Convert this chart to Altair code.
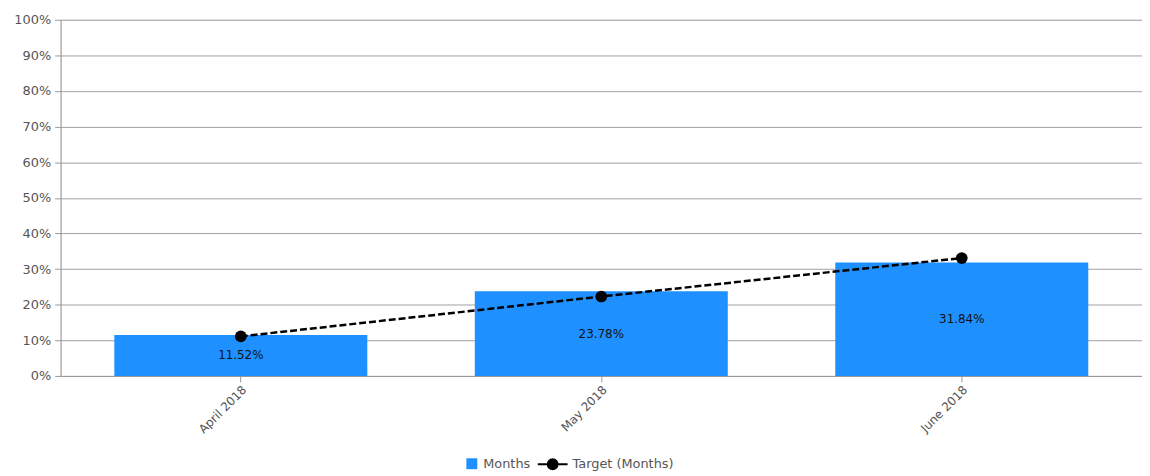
import altair as alt
import pandas as pd

months = ["April 2018", "May 2018", "June 2018"]
actual = [0.1152, 0.2378, 0.3184]
target = [0.111, 0.223, 0.331]

df = pd.DataFrame({"month": months, "actual": actual, "target": target,
                   "series": ["Months"] * 3, "tseries": ["Target (Months)"] * 3})

FONT = "DejaVu Sans"
GREY = "#555555"

x_axis = alt.Axis(labelAngle=-45, labelColor=GREY, labelFont=FONT, labelFontSize=12,
                  domainColor="#999999", tickColor="#999999", tickSize=6,
                  labelPadding=2, grid=False)
y_axis = alt.Axis(format=".0%", values=[i / 10 for i in range(11)], labelOverlap=False,
                  labelColor=GREY, labelFont=FONT, labelFontSize=13,
                  gridColor="#a0a0a0", gridWidth=1, domainColor="#999999",
                  tickColor="#999999", tickSize=6, labelPadding=4)
x_scale = alt.Scale(paddingInner=0.3, paddingOuter=0.15)
y_scale = alt.Scale(domain=[0, 1], nice=False)


def X():
    return alt.X("month:N", sort=months, title=None, scale=x_scale, axis=x_axis)


def Y(field):
    return alt.Y(field, scale=y_scale, title=None, axis=y_axis)


bars = alt.Chart(df).mark_bar(size=255).encode(
    x=X(),
    y=Y("actual:Q"),
    color=alt.Color("series:N", title=None,
                    scale=alt.Scale(domain=["Months"], range=["#1e90ff"]),
                    legend=alt.Legend(orient="none", legendX=408, legendY=441,
                                      symbolType="square", symbolSize=121,
                                      labelFont=FONT, labelFontSize=13, labelColor=GREY,
                                      symbolStrokeWidth=0, labelOffset=5)),
)

labels = alt.Chart(df).transform_calculate(mid="datum.actual / 2").mark_text(
    font=FONT, fontSize=12, color="#111111", baseline="middle"
).encode(
    x=X(),
    y=Y("mid:Q"),
    text=alt.Text("actual:Q", format=".2%"),
)

line = alt.Chart(df).mark_line(strokeDash=[7, 3], strokeWidth=2.5).encode(
    x=X(),
    y=Y("target:Q"),
    stroke=alt.Stroke("tseries:N", title=None,
                      scale=alt.Scale(domain=["Target (Months)"], range=["#000000"]),
                      legend=alt.Legend(orient="none", legendX=480, legendY=432,
                                        symbolType="M -1 0 L 1 0 M 0.33 0 A 0.33 0.33 0 1 1 -0.33 0 A 0.33 0.33 0 1 1 0.33 0",
                                        symbolSize=900, symbolFillColor="#000000",
                                        symbolStrokeColor="#000000", symbolStrokeWidth=2,
                                        symbolDash=[],
                                        labelFont=FONT, labelFontSize=13, labelColor=GREY,
                                        labelOffset=4)),
)

points = alt.Chart(df).mark_circle(size=140, color="#000000", opacity=1).encode(
    x=X(),
    y=Y("target:Q"),
)

chart = alt.layer(bars, labels, line, points).properties(
    width=1090, height=359,
    autosize=alt.AutoSizeParams(type="none"),
    padding={"left": 53, "top": 10, "right": 0, "bottom": 97},
).configure_view(stroke=None).configure(background="white")

chart.save("out.html", embed_options={"renderer": "svg", "actions": False})
